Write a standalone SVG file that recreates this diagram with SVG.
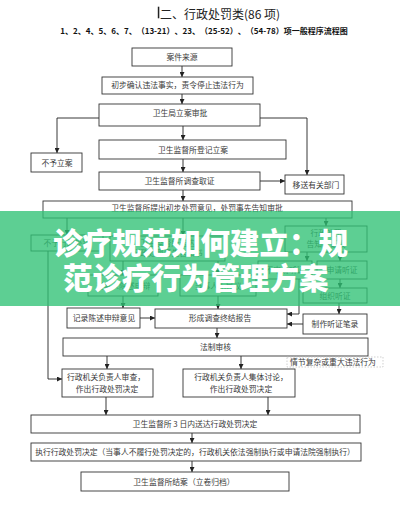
<svg xmlns="http://www.w3.org/2000/svg" width="400" height="519" viewBox="0 0 400 519">
<defs>
<marker id="ah" markerUnits="userSpaceOnUse" markerWidth="5" markerHeight="5" refX="5" refY="2.5" orient="auto">
<path d="M0,0 L5,2.5 L0,5 z" fill="#222"/>
</marker>
</defs>
<style>
.b{fill:#fff;stroke:#333;stroke-width:0.9}
.t{font-family:"Noto Sans CJK SC","Liberation Sans",sans-serif;font-size:7.8px;fill:#3a3a3a;text-anchor:middle}
.c{fill:none;stroke:#222;stroke-width:0.9;marker-end:url(#ah)}
.l{fill:none;stroke:#222;stroke-width:0.9}
</style>
<rect width="400" height="519" fill="#fff"/>
<g id="title">
<rect x="157.8" y="6.7" width="1.5" height="11.6" fill="#222"/>
<text x="160" y="19" style="font-family:'Noto Sans CJK SC','Liberation Sans',sans-serif;font-size:12px;fill:#222">二、行政处罚类(86 项)</text>
<text x="204" y="34" style="font-family:'Noto Sans CJK SC','Liberation Sans',sans-serif;font-size:8px;font-weight:bold;fill:#111;text-anchor:middle">1、2、4、5、6、7、（13-21）、23、（25-52）、（54-78）项一般程序流程图</text>
</g>
<g id="connectors">
<path class="c" d="M182,66 V77"/>
<path class="c" d="M182,94 V104"/>
<path class="c" d="M99,118 H57 V153"/>
<path class="c" d="M260,118 H307 V175"/>
<path class="c" d="M183,126 V140"/>
<path class="c" d="M183,159 V172"/>
<path class="c" d="M260,181 H285"/>
<path class="c" d="M183,190 V201"/>
<path class="c" d="M67,218 V235"/>
<path class="c" d="M183,218 V236"/>
<path class="c" d="M326,218 V226"/>
<path class="c" d="M307,252 V261"/>
<path class="c" d="M340,252 V261"/>
<path class="c" d="M123,261 V275"/>
<path class="c" d="M218,261 V275"/>
<path class="c" d="M123,296 V308"/>
<path class="c" d="M218,296 V309"/>
<path class="c" d="M48,251 V379 H62"/>
<path class="c" d="M299,279 V314 H287"/>
<path class="c" d="M340,279 V288"/>
<path class="c" d="M339,303 V314"/>
<path class="c" d="M303,324 H287"/>
<path class="c" d="M140,318 H155"/>
<path class="c" d="M217,328 V338"/>
<path class="c" d="M107,356 V369"/>
<path class="c" d="M241,356 V369"/>
<path class="c" d="M106,397 V415"/>
<path class="c" d="M268,397 V415"/>
<path class="c" d="M192,433 V443"/>
<path class="c" d="M192,461 V472"/>
</g>
<g id="n1"><rect class="b" x="132" y="48" width="100" height="18"/><text class="t" x="182" y="60">案件来源</text></g>
<g id="n2"><rect class="b" x="102" y="77" width="151" height="17"/><text class="t" x="177.5" y="88">初步确认违法事实，责令停止违法行为</text></g>
<g id="n3"><rect class="b" x="99" y="104" width="161" height="22"/><text class="t" x="180" y="115.5">卫生局立案审批</text></g>
<g id="n4"><rect class="b" x="31" y="153" width="51" height="19"/><text class="t" x="57" y="165.5">不予立案</text></g>
<g id="n5"><rect class="b" x="99" y="140" width="187" height="19"/><text class="t" x="193" y="153">卫生监督所登记立案</text></g>
<g id="n6"><rect class="b" x="99" y="172" width="161" height="18"/><text class="t" x="179.5" y="184">卫生监督所调查取证</text></g>
<g id="n7"><rect class="b" x="285" y="175" width="59" height="19"/><text class="t" x="316" y="187.5">移送有关部门</text></g>
<g id="n8"><rect class="b" x="43" y="201" width="309" height="17"/><text class="t" x="197" y="211">卫生监督所提出初步处罚意见，处罚事先告知审批</text></g>
<g id="n9"><rect class="b" x="31" y="235" width="72" height="16"/><text class="t" x="67" y="246">不予行政处罚</text></g>
<g id="n10"><rect class="b" x="110" y="236" width="115" height="25"/><text class="t" x="167.5" y="246">卫生监督所送达</text><text class="t" x="167.5" y="256">行政处罚事先告知书</text></g>
<g id="n11"><rect class="b" x="285" y="226" width="82" height="26"/><text class="t" x="326" y="236">行政处罚</text><text class="t" x="326" y="247">告知听证权</text></g>
<g id="n12"><rect class="b" x="258" y="261" width="54" height="18"/><text class="t" x="285" y="273">不申请听证</text></g>
<g id="n13"><rect class="b" x="317" y="261" width="50" height="18"/><text class="t" x="342" y="273">申请听证</text></g>
<g id="n14"><rect class="b" x="88" y="275" width="70" height="21"/><text class="t" x="123" y="288.5">当事人陈述申辩</text></g>
<g id="n15"><rect class="b" x="180" y="275" width="76" height="21"/><text class="t" x="218" y="288.5">当事人无异议</text></g>
<g id="n16"><rect class="b" x="303" y="288" width="64" height="15"/><text class="t" x="335" y="298.5">组织听证</text></g>
<g id="n17"><rect class="b" x="303" y="314" width="64" height="20"/><text class="t" x="335" y="327">制作听证笔录</text></g>
<g id="n18"><rect class="b" x="67" y="308" width="73" height="20"/><text class="t" x="104" y="320.5">记录陈述申辩意见</text></g>
<g id="n19"><rect class="b" x="155" y="309" width="132" height="19"/><text class="t" x="220" y="320.5">形成调查终结报告</text></g>
<g id="n20"><rect class="b" x="63" y="338" width="305" height="18"/><text class="t" x="215.5" y="350">法制审核</text></g>
<g id="n21"><rect x="287" y="357" width="96" height="10" fill="#fff" stroke="#bbb" stroke-width="0.7" stroke-dasharray="1.5,1.5"/><text class="t" x="333" y="365">情节复杂或重大违法行为</text></g>
<g id="n22"><rect class="b" x="62" y="369" width="91" height="28"/><text class="t" x="106" y="380">行政机关负责人审查，</text><text class="t" x="107" y="392">作出行政处罚决定</text></g>
<g id="n23"><rect class="b" x="183" y="369" width="112" height="28"/><text class="t" x="241" y="380">行政机关负责人集体讨论，</text><text class="t" x="241" y="392">作出行政处罚决定</text></g>
<g id="n24"><rect class="b" x="31" y="415" width="329" height="18"/><text class="t" x="195" y="427">卫生监督所 3 日内送达行政处罚决定</text></g>
<g id="n25"><rect class="b" x="31" y="443" width="330" height="18"/><text class="t" x="195" y="455">执行行政处罚决定（当事人不履行处罚决定的，行政机关依法强制执行或申请法院强制执行）</text></g>
<g id="n26"><rect class="b" x="81" y="472" width="208" height="19"/><text class="t" x="184" y="484.5">卫生监督所结案（立卷归档）</text></g>
<g id="banner">
<rect x="0" y="211" width="400" height="95" fill="#2fc275" opacity="0.78"/>
<text x="53" y="254" style="font-family:'Noto Sans CJK SC',sans-serif;font-size:29.5px;font-weight:900;fill:#fff">诊疗规范如何建立：规</text>
<text x="63" y="289" style="font-family:'Noto Sans CJK SC',sans-serif;font-size:29.5px;font-weight:900;fill:#fff">范诊疗行为管理方案</text>
</g>
</svg>
